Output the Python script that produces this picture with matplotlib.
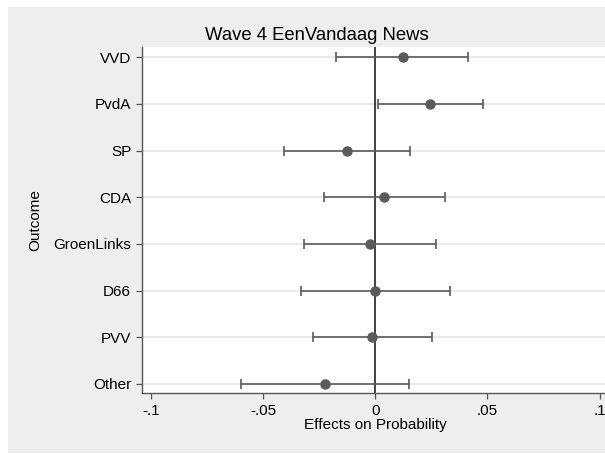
import matplotlib
matplotlib.use("Agg")
import matplotlib.pyplot as plt
from matplotlib.patches import Rectangle

categories = ["VVD", "PvdA", "SP", "CDA", "GroenLinks", "D66", "PVV", "Other"]
estimates = [0.0122, 0.0244, -0.0125, 0.0040, -0.0024, -0.0001, -0.0013, -0.0223]
ci_low = [-0.0174, 0.0010, -0.0406, -0.0229, -0.0316, -0.0333, -0.0280, -0.0601]
ci_high = [0.0415, 0.0478, 0.0155, 0.0310, 0.0269, 0.0332, 0.0254, 0.0150]
xticks = [-0.1, -0.05, 0, 0.05, 0.1]
xticklabels = ["-.1", "-.05", "0", ".05", ".1"]

plt.rcParams['font.family'] = ['Liberation Sans', 'DejaVu Sans']

W, H = 605, 454
fig = plt.figure(figsize=(W / 100, H / 100), dpi=100, facecolor="white")
bg = Rectangle((8 / W, 1.5 / H), 1 - 8 / W, 1 - 8.5 / H, transform=fig.transFigure,
               facecolor="#eeeeee", edgecolor="none", zorder=-10)
fig.patches.append(bg)

left_px, right_px, top_px, bot_px = 141.6, 609.0, 47.0, 393.3
ax = fig.add_axes([left_px / W, 1 - bot_px / H, (right_px - left_px) / W,
                   (bot_px - top_px) / H])
ax.set_facecolor("white")

n = len(categories)
ypos = [n - 1 - i for i in range(n)]

for y in ypos:
    ax.axhline(y, color="#e6e6e6", lw=1.2, zorder=0)
ax.axvline(0, color="#333333", lw=1.3, zorder=1)

xerr = [[e - l for e, l in zip(estimates, ci_low)],
        [h - e for e, h in zip(estimates, ci_high)]]
ax.errorbar(estimates, ypos, xerr=xerr, fmt="o", color="#5a5a5a",
            ecolor="#5a5a5a", elinewidth=1.2, capsize=3.5, capthick=1.2,
            markersize=6.5, zorder=3)

ax.set_xlim(-0.1042, 0.1042)
ax.set_ylim(-0.2, n - 1 + 0.22)
ax.set_yticks(ypos)
ax.set_yticklabels(categories, fontsize=11)
ax.set_xticks(xticks)
ax.set_xticklabels(xticklabels, fontsize=11)

for s in ["top", "right"]:
    ax.spines[s].set_visible(False)
for s in ["left", "bottom"]:
    ax.spines[s].set_color("#555555")
    ax.spines[s].set_linewidth(1.0)
ax.tick_params(axis="both", colors="#555555", width=0.9, labelcolor="black")
ax.tick_params(axis="y", length=4.5, pad=3)
ax.tick_params(axis="x", length=4, pad=4)

ax.set_xlabel("Effects on Probability", fontsize=11, labelpad=0)
fig.text(35 / W, 1 - 220 / H, "Outcome", rotation=90, fontsize=11,
         ha="center", va="center")
fig.text(316.5 / W, 1 - 40 / H, "Wave 4 EenVandaag News", fontsize=13.3,
         ha="center", va="baseline")

fig.savefig("out.png", dpi=100, facecolor=fig.get_facecolor())
